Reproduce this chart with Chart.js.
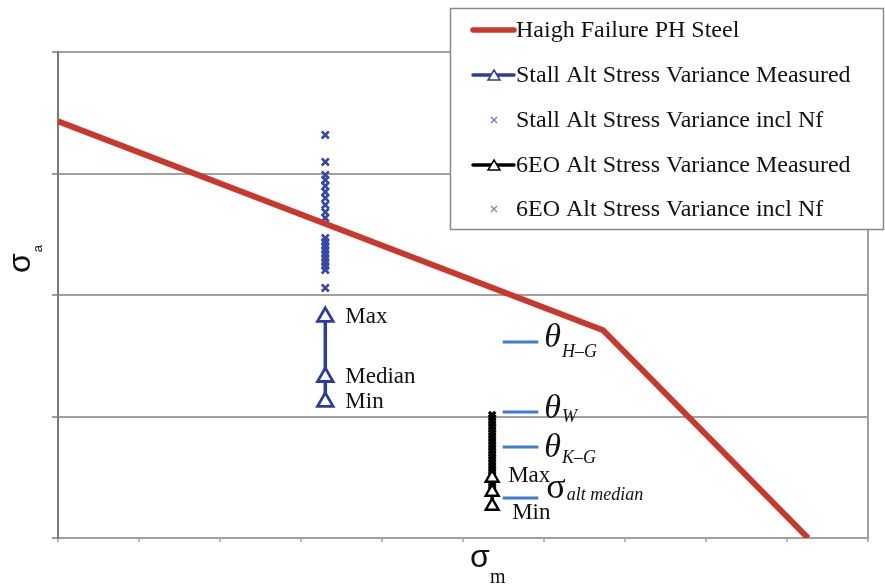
<!DOCTYPE html>
<html><head><meta charset="utf-8">
<script src="https://cdn.jsdelivr.net/npm/chart.js@4/dist/chart.umd.min.js"></script>
<style>html,body{margin:0;padding:0;background:#fff}#wrap{width:885px;height:585px}</style>
</head><body><div id="wrap"><canvas id="c" width="885" height="585"></canvas></div>
<script>
// ---- data ----
const seriesNames = ["Haigh Failure PH Steel","Stall Alt Stress Variance Measured","Stall Alt Stress Variance incl Nf","6EO Alt Stress Variance Measured","6EO Alt Stress Variance incl Nf"];
const haighX = [0, 6.73, 9.26];
const haighY = [3.43, 1.71, 0];
const stallX = 3.30;
const stallMeasuredY = [1.12, 1.325, 1.82];          // Min, Median, Max
const stallNfY = [3.317,3.095,2.988,2.947,2.897,2.848,2.798,2.741,2.683,2.634,2.469,2.436,2.403,2.370,2.337,2.305,2.272,2.239,2.206,2.058];
const eoX = 5.36;
const eoMeasuredY = [0.263, 0.379, 0.494];            // Min, Median, Max
const eoNfY = [1.012,0.990,0.963,0.940,0.914,0.891,0.864,0.842,0.815,0.792,0.765,0.743,0.716,0.694,0.667,0.645,0.617,0.595,0.568,0.546,0.519,0.497,0.469,0.447,0.420,0.398];
const thetaNames = ["H\u2013G","W","K\u2013G","alt median"];
const thetaX0 = 5.49, thetaX1 = 5.93;
const thetaY = [1.613, 1.037, 0.749, 0.329];
const xTicks = [0,1,2,3,4,5,6,7,8,9,10];
const yTicks = [0,1,2,3,4];

// ---- styles ----
const RED = '#c9382a', BLUE = '#2c3c9c', XBLUE = '#3646ac', TBLUE = '#3d7dcf', GRID = '#a0a0a0', AXIS = '#7a7a7a';
const SERIF = '"Liberation Serif","Times New Roman",serif';
const SANS = '"Liberation Sans",Arial,sans-serif';

const pts = (xs, ys) => ys.map((y, i) => ({x: Array.isArray(xs) ? xs[i] : xs, y}));
const thetaData = [];
thetaY.forEach(y => { thetaData.push({x: thetaX0, y}, {x: thetaX1, y}, {x: thetaX1, y: null}); });

const labelPlugin = {
  id: 'labels',
  afterDraw(chart) {
    const ctx = chart.ctx, xs = chart.scales.x, ys = chart.scales.y;
    ctx.save();
    ctx.fillStyle = '#111';
    ctx.font = '23px ' + SERIF;
    ctx.textBaseline = 'alphabetic';
    const sx = xs.getPixelForValue(stallX);
    ctx.fillText('Max', sx + 20, ys.getPixelForValue(stallMeasuredY[2]) + 6);
    ctx.fillText('Median', sx + 20, ys.getPixelForValue(stallMeasuredY[1]) + 6);
    ctx.fillText('Min', sx + 20, ys.getPixelForValue(stallMeasuredY[0]) + 6);
    const ex = xs.getPixelForValue(eoX);
    ctx.fillText('Max', ex + 16, ys.getPixelForValue(eoMeasuredY[2]) + 4);
    ctx.fillText('Min', ex + 20, ys.getPixelForValue(eoMeasuredY[0]) + 13);
    const tx = xs.getPixelForValue(thetaX1);
    const offs = [[5, 10], [6, 4], [10, 6], [0, 2]];
    thetaY.forEach((y, i) => {
      const py = ys.getPixelForValue(y);
      const base = py + offs[i][0];
      let w;
      if (i < 3) {
        ctx.font = 'italic 34px ' + SERIF;
        ctx.fillText('\u03b8', tx + 6, base);
        w = ctx.measureText('\u03b8').width;
        ctx.font = 'italic 18px ' + SERIF;
        ctx.fillText(thetaNames[i], tx + 6 + w + 1, base + offs[i][1]);
      } else {
        ctx.font = '36px ' + SERIF;
        ctx.fillText('\u03c3', tx + 8, base);
        w = ctx.measureText('\u03c3').width;
        ctx.font = 'italic 18px ' + SERIF;
        ctx.fillText(thetaNames[i], tx + 8 + w + 1, base + offs[i][1]);
      }
    });
    ctx.font = '32px ' + SANS;
    ctx.fillText('\u03c3', 470, 567);
    ctx.font = '20px ' + SERIF;
    ctx.fillText('m', 490, 583);
    ctx.save();
    ctx.translate(30, 273);
    ctx.rotate(-Math.PI / 2);
    ctx.font = '32px ' + SANS;
    ctx.fillText('\u03c3', 0, 0);
    const sw = ctx.measureText('\u03c3').width;
    ctx.font = '13px ' + SANS;
    ctx.fillText('a', sw + 1, 12);
    ctx.restore();
    // legend
    ctx.fillStyle = '#fff';
    ctx.fillRect(450, 8, 434, 222);
    ctx.strokeStyle = '#8a8a8a';
    ctx.lineWidth = 1.5;
    ctx.strokeRect(450.5, 8.5, 433, 221);
    const rows = [30, 75, 120, 165, 209];
    const lx0 = 473, lx1 = 514, lc = 494;
    rows.forEach((ry, i) => {
      ctx.save();
      if (i === 0 || i === 1 || i === 3) {
        ctx.strokeStyle = i === 0 ? RED : (i === 1 ? BLUE : '#000');
        ctx.lineWidth = i === 0 ? 5.5 : 3.5;
        ctx.lineCap = 'round';
        ctx.beginPath(); ctx.moveTo(lx0, ry); ctx.lineTo(lx1, ry); ctx.stroke();
        if (i !== 0) {
          ctx.lineWidth = 1.5; ctx.lineCap = 'butt';
          ctx.fillStyle = '#fff';
          ctx.beginPath(); ctx.moveTo(lc, ry - 5); ctx.lineTo(lc + 6, ry + 5); ctx.lineTo(lc - 6, ry + 5); ctx.closePath();
          ctx.fill(); ctx.stroke();
        }
      } else {
        ctx.strokeStyle = i === 2 ? '#7078c0' : '#888';
        ctx.lineWidth = 1.3;
        ctx.beginPath();
        ctx.moveTo(lc - 3, ry - 3); ctx.lineTo(lc + 3, ry + 3);
        ctx.moveTo(lc + 3, ry - 3); ctx.lineTo(lc - 3, ry + 3);
        ctx.stroke();
      }
      ctx.restore();
      ctx.fillStyle = '#111';
      ctx.font = '24px ' + SERIF;
      ctx.textBaseline = 'middle';
      ctx.fillText(seriesNames[i], 516, ry + 1);
    });
    ctx.restore();
  }
};

new Chart(document.getElementById('c'), {
  type: 'scatter',
  data: {
    datasets: [
      {label: seriesNames[0], data: pts(haighX, haighY), showLine: true, borderColor: RED, borderWidth: 6, pointRadius: 0, borderCapStyle: 'butt', borderJoinStyle: 'round'},
      {label: seriesNames[1], data: pts(stallX, stallMeasuredY), showLine: true, borderColor: BLUE, borderWidth: 3.5, pointStyle: 'triangle', pointRadius: 9, pointBorderWidth: 2.8, pointBackgroundColor: '#fff', pointBorderColor: BLUE},
      {label: seriesNames[2], data: pts(stallX, stallNfY), pointStyle: 'crossRot', pointRadius: 5, pointBorderWidth: 2.6, borderColor: XBLUE},
      {label: seriesNames[3], data: pts(eoX, eoMeasuredY), showLine: true, borderColor: '#000', borderWidth: 3.5, pointStyle: 'triangle', pointRadius: 7.5, pointBorderWidth: 2.4, pointBackgroundColor: '#fff', pointBorderColor: '#000'},
      {label: seriesNames[4], data: pts(eoX, eoNfY), pointStyle: 'crossRot', pointRadius: 4.5, pointBorderWidth: 3.2, borderColor: '#000'},
      {label: 'theta', data: thetaData, showLine: true, spanGaps: false, borderColor: TBLUE, borderWidth: 3, pointRadius: 0}
    ]
  },
  options: {
    responsive: false,
    animation: false,
    events: [],
    layout: {padding: {left: 0, top: 52, right: 17, bottom: 0}},
    plugins: {legend: {display: false}, tooltip: {enabled: false}},
    scales: {
      x: {
        type: 'linear', min: 0, max: 10,
        afterBuildTicks: s => { s.ticks = xTicks.map(v => ({value: v})); },
        afterFit: s => { s.height = 47; },
        ticks: {display: false},
        grid: {color: c => (c.tick && c.tick.value === 10) ? GRID : 'rgba(0,0,0,0)', lineWidth: 2, tickColor: GRID, tickLength: 4, tickWidth: 1.5},
        border: {display: true, color: GRID, width: 2}
      },
      y: {
        type: 'linear', min: 0, max: 4,
        afterBuildTicks: s => { s.ticks = yTicks.map(v => ({value: v})); },
        afterFit: s => { s.width = 58; },
        ticks: {display: false},
        grid: {color: GRID, lineWidth: 2, tickColor: AXIS, tickLength: 6, tickWidth: 1.5},
        border: {display: true, color: AXIS, width: 2}
      }
    }
  },
  plugins: [labelPlugin]
});
</script></body></html>
